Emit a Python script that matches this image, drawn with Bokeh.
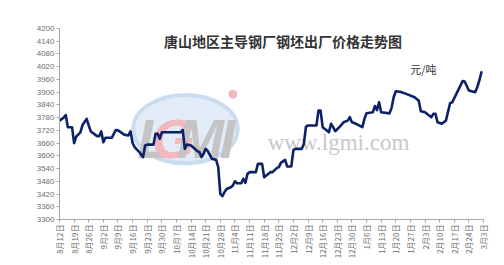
import pandas as pd
from math import pi
from bokeh.plotting import figure
from bokeh.models import FixedTicker, Range1d
from bokeh.core.properties import value
from bokeh.embed import file_html
from bokeh.resources import INLINE

# ---- data -------------------------------------------------------------
title_text = "唐山地区主导钢厂钢坯出厂价格走势图"
unit_text = "元/吨"

dates = [
    "2013-08-12", "2013-08-14", "2013-08-15", "2013-08-16", "2013-08-18", "2013-08-19",
    "2013-08-20", "2013-08-22", "2013-08-23", "2013-08-25", "2013-08-26", "2013-08-27",
    "2013-08-30", "2013-08-31", "2013-09-01", "2013-09-02", "2013-09-03", "2013-09-06",
    "2013-09-08", "2013-09-09", "2013-09-12", "2013-09-14", "2013-09-15", "2013-09-16",
    "2013-09-17", "2013-09-19", "2013-09-21", "2013-09-22", "2013-09-23", "2013-09-26",
    "2013-09-27", "2013-09-28", "2013-09-29", "2013-09-30", "2013-10-09", "2013-10-10",
    "2013-10-11", "2013-10-12", "2013-10-14", "2013-10-17", "2013-10-18", "2013-10-19",
    "2013-10-20", "2013-10-21", "2013-10-22", "2013-10-24", "2013-10-26", "2013-10-27",
    "2013-10-28", "2013-10-29", "2013-10-30", "2013-10-31", "2013-11-02", "2013-11-03",
    "2013-11-04", "2013-11-05", "2013-11-07", "2013-11-08", "2013-11-09", "2013-11-10",
    "2013-11-11", "2013-11-14", "2013-11-15", "2013-11-17", "2013-11-18", "2013-11-19",
    "2013-11-21", "2013-11-22", "2013-11-24", "2013-11-25", "2013-11-26", "2013-11-28",
    "2013-11-29", "2013-12-01", "2013-12-02", "2013-12-03", "2013-12-06", "2013-12-07",
    "2013-12-08", "2013-12-09", "2013-12-13", "2013-12-14", "2013-12-15", "2013-12-16",
    "2013-12-18", "2013-12-19", "2013-12-20", "2013-12-21", "2013-12-22", "2013-12-24",
    "2013-12-26", "2013-12-28", "2013-12-29", "2013-12-30", "2014-01-01", "2014-01-04",
    "2014-01-05", "2014-01-06", "2014-01-09", "2014-01-10", "2014-01-11", "2014-01-12",
    "2014-01-13", "2014-01-17", "2014-01-18", "2014-01-19", "2014-01-20", "2014-01-22",
    "2014-01-25", "2014-01-29", "2014-01-31", "2014-02-01", "2014-02-03", "2014-02-06",
    "2014-02-07", "2014-02-08", "2014-02-09", "2014-02-11", "2014-02-13", "2014-02-15",
    "2014-02-16", "2014-02-18", "2014-02-21", "2014-02-22", "2014-02-24", "2014-02-27",
    "2014-02-28", "2014-03-01", "2014-03-02",
]

prices = [
    3766, 3780, 3792, 3735, 3735, 3660,
    3690, 3711, 3745, 3774, 3743, 3715,
    3693, 3693, 3715, 3664, 3685, 3685,
    3722, 3720, 3700, 3696, 3715, 3660,
    3641, 3620, 3594, 3649, 3653, 3653,
    3704, 3704, 3680, 3711, 3711, 3722,
    3633, 3653, 3649, 3622, 3617, 3594,
    3610, 3633, 3622, 3586, 3581, 3547,
    3421, 3410, 3429, 3444, 3452, 3460,
    3480, 3471, 3471, 3492, 3473, 3515,
    3523, 3523, 3562, 3562, 3499, 3507,
    3523, 3523, 3542, 3547, 3567, 3581,
    3550, 3550, 3628, 3633, 3633, 3657,
    3738, 3743, 3743, 3813, 3813, 3735,
    3719, 3711, 3751, 3735, 3716, 3735,
    3758, 3766, 3782, 3758, 3751, 3735,
    3774, 3801, 3805, 3835, 3815, 3852,
    3805, 3800, 3826, 3876, 3904, 3902,
    3892, 3876, 3860, 3810, 3805, 3782,
    3798, 3798, 3758, 3751, 3766, 3848,
    3852, 3892, 3952, 3950, 3908, 3900,
    3923, 3955, 3994,
]

axis_start = "2013-08-12"
axis_end = "2014-03-03"
y_min, y_max, y_step = 3300, 4200, 60

watermark_url = "www.lgmi.com"
logo_letters = ["L", "G", "M", "I"]

# ---- derived ----------------------------------------------------------
start = pd.Timestamp(axis_start)
end = pd.Timestamp(axis_end)
x_days = [(pd.Timestamp(d) - start).days for d in dates]
tick_dates = pd.date_range(start, end, freq="7D")
tick_pos = [(d - start).days for d in tick_dates]
tick_labels = {int(p): f"{d.month}月{d.day}日" for p, d in zip(tick_pos, tick_dates)}
total_days = (end - start).days

p = figure(width=504, height=265, output_backend="svg", toolbar_location=None,
           x_range=Range1d(0, total_days), y_range=Range1d(y_min, y_max),
           min_border_left=59, min_border_right=21, min_border_top=28,
           min_border_bottom=46)
p.outline_line_color = None
p.xgrid.visible = False
p.ygrid.visible = False
p.background_fill_color = "white"
p.border_fill_color = "white"

# watermark logo
p.ellipse(x=[60.3], y=[3726], width=[50], height=[322],
          fill_color="#e2ecf7", fill_alpha=1.0, line_color="#cadcef", line_width=4)
letter_x = [45.5, 54.5, 67.5, 80.5]
letter_colors = ["#c4c4c4", "#f3b7be", "#c4c4c4", "#c4c4c4"]
for lx, lt, lc in zip(letter_x, logo_letters, letter_colors):
    p.text(x=[lx], y=[3684], text=[lt], text_color=lc,
           text_font=value("Liberation Sans"), text_font_size="56px",
           text_font_style="bold italic", text_align="center",
           text_baseline="alphabetic")
p.scatter(x=[83.0], y=[3890], size=8, marker="circle", color="#f3b7be")
p.text(x=[99.7], y=[3663], text=[watermark_url], text_color="#c9c9c9",
       text_font=value("Liberation Serif"), text_font_size="23px",
       text_align="left", text_baseline="alphabetic")

# price line
p.line(x=x_days, y=prices, line_color="#0c2266", line_width=2.6,
       line_join="round", line_cap="round")

# title & unit
p.text(x=[107], y=[4143], text=[title_text], text_color="#333333",
       text_font=value("Noto Sans CJK SC"), text_font_size="14px",
       text_font_style="bold", text_align="center", text_baseline="middle")
p.text(x=[174.2], y=[4007], text=[unit_text], text_color="#333333",
       text_font=value("Noto Sans CJK SC"), text_font_size="11px",
       text_align="center", text_baseline="middle")

# axes
p.yaxis.ticker = FixedTicker(ticks=list(range(y_min, y_max + 1, y_step)))
p.yaxis.axis_line_color = "#a6a6a6"
p.yaxis.major_tick_line_color = "#a6a6a6"
p.yaxis.major_tick_out = 3
p.yaxis.major_tick_in = 0
p.yaxis.minor_tick_line_color = None
p.yaxis.major_label_text_font = "Liberation Sans"
p.yaxis.major_label_text_font_size = "8px"
p.yaxis.major_label_text_color = "#707070"
p.yaxis.major_label_standoff = 2

p.xaxis.ticker = FixedTicker(ticks=tick_pos)
p.xaxis.major_label_overrides = tick_labels
p.xaxis.major_label_orientation = pi / 2
p.xaxis.axis_line_color = "#a6a6a6"
p.xaxis.major_tick_line_color = "#a6a6a6"
p.xaxis.major_tick_out = 3
p.xaxis.major_tick_in = 0
p.xaxis.minor_tick_line_color = None
p.xaxis.major_label_text_font = "Noto Sans CJK SC"
p.xaxis.major_label_text_font_size = "8px"
p.xaxis.major_label_text_color = "#707070"
p.xaxis.major_label_standoff = 2

open("out.html", "w").write(file_html(p, INLINE))
